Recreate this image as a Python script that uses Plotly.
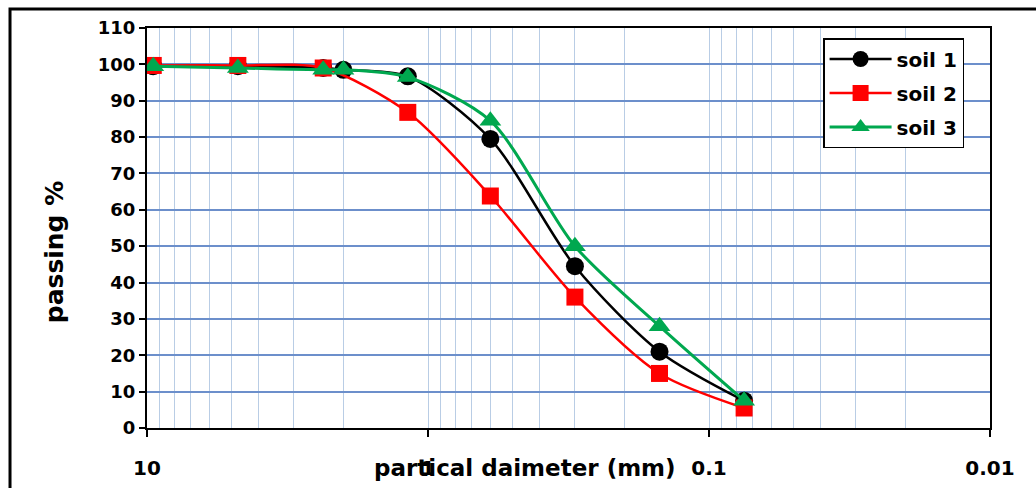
import plotly.graph_objects as go

# Sieve sizes (mm) and percent passing for each soil
sieve_1 = [9.5, 4.75, 2.36, 2.0, 1.18, 0.6, 0.3, 0.15, 0.075]
soil_1 = [99.5, 99.5, 99.0, 98.5, 96.7, 79.5, 44.5, 21.0, 7.5]

sieve_2 = [9.5, 4.75, 2.36, 1.18, 0.6, 0.3, 0.15, 0.075]
soil_2 = [99.7, 99.7, 99.0, 86.8, 63.8, 36.0, 15.0, 5.5]

sieve_3 = [9.5, 4.75, 2.36, 2.0, 1.18, 0.6, 0.3, 0.15, 0.075]
soil_3 = [99.5, 99.0, 98.5, 98.5, 96.5, 84.5, 50.0, 28.0, 7.5]

x_ticks = [10, 1, 0.1, 0.01]
x_tick_text = ["10", "1", "0.1", "0.01"]
y_ticks = list(range(0, 111, 10))

FONT = "'DejaVu Sans', sans-serif"

fig = go.Figure()
fig.add_trace(go.Scatter(
    x=sieve_1, y=soil_1, name="soil 1", mode="lines+markers", legendgroup="s1",
    line=dict(color="black", width=2.5, shape="spline", smoothing=0.8),
    marker=dict(symbol="circle", size=18, color="black"),
))
fig.add_trace(go.Scatter(
    x=sieve_2, y=soil_2, name="soil 2", mode="lines+markers", legendgroup="s2",
    line=dict(color="#FF0000", width=2.5, shape="spline", smoothing=0.8),
    marker=dict(symbol="square", size=17, color="#FF0000"),
))
fig.add_trace(go.Scatter(
    x=sieve_3, y=soil_3, name="soil 3", mode="lines+markers", legendgroup="s3",
    line=dict(color="#00A84F", width=3, shape="spline", smoothing=0.8),
    marker=dict(symbol="triangle-up", size=19, color="#00A84F"),
))

fig.update_layout(
    width=1036, height=488,
    margin=dict(l=147, r=46, t=28, b=60),
    paper_bgcolor="white", plot_bgcolor="white",
    font=dict(family=FONT, color="black"),
    showlegend=True,
    legend=dict(
        x=0.802, y=0.975, xanchor="left", yanchor="top",
        bgcolor="white", bordercolor="black", borderwidth=1.5,
        font=dict(family=FONT, size=20, color="black", weight="bold"),
        itemwidth=62, tracegroupgap=5,
    ),
    xaxis=dict(
        type="log", range=[1, -2], automargin=False,
        tickvals=x_ticks, ticktext=x_tick_text,
        tickfont=dict(family=FONT, size=20, color="black", weight="bold"),
        ticks="outside", ticklen=7, tickwidth=2, tickcolor="black",
        ticklabelstandoff=14,
        showline=True, linecolor="black", linewidth=2, mirror=True,
        showgrid=True, gridcolor="#B9CDE5", gridwidth=1,
        minor=dict(dtick="D1", showgrid=True, gridcolor="#B9CDE5", gridwidth=1, ticks=""),
        zeroline=False,
    ),
    yaxis=dict(
        range=[0, 110], tickvals=y_ticks, automargin=False,
        tickfont=dict(family=FONT, size=18, color="black", weight="bold"),
        ticks="outside", ticklen=6, tickwidth=2, tickcolor="black",
        showline=True, linecolor="black", linewidth=2, mirror=True,
        showgrid=True, gridcolor="#6C8FCB", gridwidth=1.5,
        zeroline=False,
    ),
    shapes=[dict(
        type="rect", xref="paper", yref="paper",
        x0=-0.1625, x1=1.06, y0=-0.2, y1=1.0475,
        line=dict(color="black", width=3), fillcolor="rgba(0,0,0,0)",
        layer="above",
    )],
    annotations=[
        dict(text="partical daimeter (mm)", xref="paper", yref="paper",
             x=0.448, y=-0.1, xanchor="center", yanchor="middle", showarrow=False,
             font=dict(family=FONT, size=23, color="black", weight="bold")),
        dict(text="passing %", xref="paper", yref="paper",
             x=-0.11, y=0.44, xanchor="center", yanchor="middle", showarrow=False,
             textangle=-90,
             font=dict(family=FONT, size=25, color="black", weight="bold")),
    ],
)

fig.write_html("out.html")
